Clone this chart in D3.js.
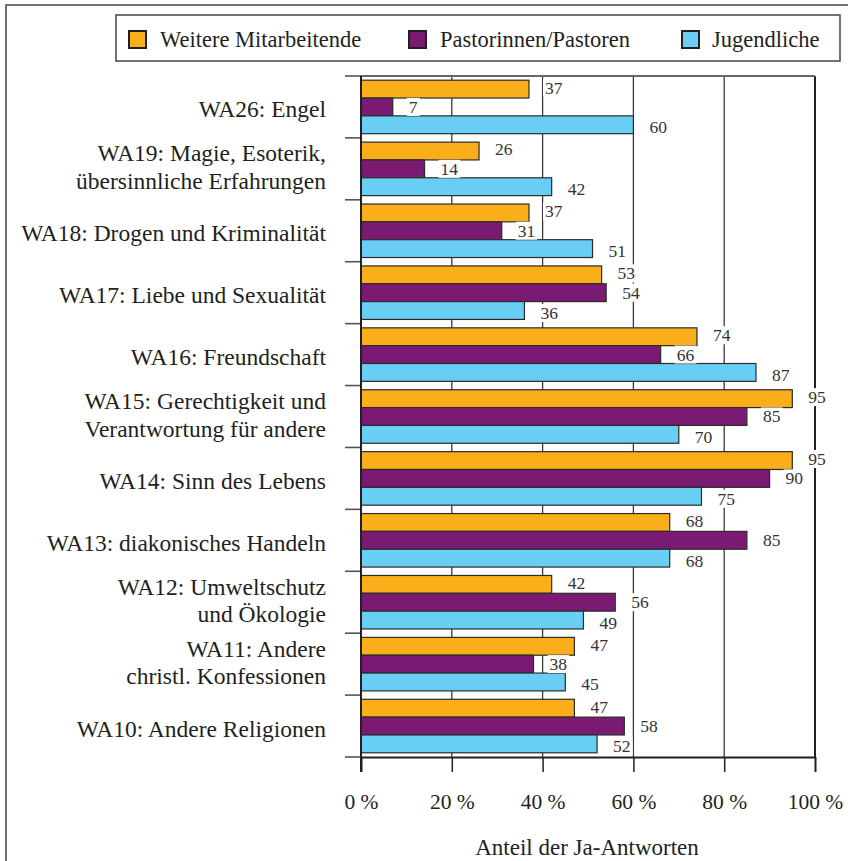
<!DOCTYPE html>
<html>
<head>
<meta charset="utf-8">
<script src="https://cdn.jsdelivr.net/npm/d3@7"></script>
<style>
  html, body { margin: 0; padding: 0; background: #fff; }
  svg { display: block; }
  .serif { font-family: 'Liberation Serif'; }
</style>
</head>
<body>
<svg id="chart" width="848" height="861"></svg>
<script>
// ---------- data ----------
const categoryIds = ["WA26", "WA19", "WA18", "WA17", "WA16", "WA15", "WA14", "WA13", "WA12", "WA11", "WA10"];
const categoryLines = [
  ["WA26: Engel"],
  ["WA19: Magie, Esoterik,", "übersinnliche Erfahrungen"],
  ["WA18: Drogen und Kriminalität"],
  ["WA17: Liebe und Sexualität"],
  ["WA16: Freundschaft"],
  ["WA15: Gerechtigkeit und", "Verantwortung für andere"],
  ["WA14: Sinn des Lebens"],
  ["WA13: diakonisches Handeln"],
  ["WA12: Umweltschutz", "und Ökologie"],
  ["WA11: Andere", "christl. Konfessionen"],
  ["WA10: Andere Religionen"]
];
const seriesNames = ["Weitere Mitarbeitende", "Pastorinnen/Pastoren", "Jugendliche"];
const weitereMitarbeitende = [37, 26, 37, 53, 74, 95, 95, 68, 42, 47, 47];
const pastorinnenPastoren  = [7, 14, 31, 54, 66, 85, 90, 85, 56, 38, 58];
const jugendliche          = [60, 42, 51, 36, 87, 70, 75, 68, 49, 45, 52];
const tickValues = [0, 20, 40, 60, 80, 100];
const tickLabels = ["0 %", "20 %", "40 %", "60 %", "80 %", "100 %"];
const axisTitle = "Anteil der Ja-Antworten";

// ---------- styles ----------
const TEXT_COLOR = "#231f20";
const colors = ["#F9AE1A", "#7A1A73", "#68CEF4"];
const labelDy = [-1.5, 0, 2.5];

const svg = d3.select("#chart");
svg.append("rect").attr("x", 0).attr("y", 0).attr("width", 848).attr("height", 861).attr("fill", "#fff");

function styleText(sel, size) {
  return sel.attr("class", "serif")
    .attr("font-family", "Liberation Serif")
    .attr("font-size", size)
    .attr("fill", TEXT_COLOR);
}

// outer frame (extends past right/bottom edge)
svg.append("rect").attr("x", 6).attr("y", 5).attr("width", 900).attr("height", 900)
  .attr("fill", "none").attr("stroke", "#444").attr("stroke-width", 1.5);

const plotLeft = 361, plotRight = 815, plotTop = 76, plotBottom = 757;

const x = d3.scaleLinear().domain([0, 100]).range([plotLeft, plotRight]);
const y = d3.scaleBand().domain(categoryIds).range([plotTop, plotBottom]).padding(0);
const ySub = d3.scaleBand().domain(seriesNames).range([4.2, y.bandwidth() - 4.2]).padding(0);

const seriesValues = [weitereMitarbeitende, pastorinnenPastoren, jugendliche];

// gridlines
const grid = svg.append("g");
grid.selectAll("line").data(tickValues.filter(d => d > 0)).join("line")
  .attr("x1", d => x(d)).attr("x2", d => x(d))
  .attr("y1", plotTop).attr("y2", plotBottom)
  .attr("stroke", d => d === 100 ? "#231f20" : "#3a3a3a")
  .attr("stroke-width", d => d === 100 ? 2 : 1.3);

// top border
svg.append("line").attr("x1", plotLeft).attr("x2", plotRight).attr("y1", plotTop).attr("y2", plotTop)
  .attr("stroke", "#666").attr("stroke-width", 2);

// bars
const groups = svg.append("g").selectAll("g").data(categoryIds).join("g")
  .attr("transform", d => `translate(0,${y(d)})`);

seriesNames.forEach((s, si) => {
  groups.append("rect")
    .attr("x", x(0))
    .attr("y", ySub(s))
    .attr("width", (d, i) => x(seriesValues[si][i]) - x(0))
    .attr("height", ySub.bandwidth())
    .attr("fill", colors[si])
    .attr("stroke", "#2b2b2b")
    .attr("stroke-width", 1.2);
});

// value labels with white background
seriesNames.forEach((s, si) => {
  groups.each(function(d, i) {
    const g = d3.select(this);
    const v = seriesValues[si][i];
    const t = g.append("text")
      .attr("x", x(v) + 16)
      .attr("y", ySub(s) + ySub.bandwidth() / 2 + labelDy[si])
      .attr("dy", "0.34em")
      .text(v);
    styleText(t, 17.5).attr("fill", "#333");
    const bb = t.node().getBBox();
    g.insert("rect", () => t.node())
      .attr("x", bb.x - 2).attr("y", bb.y + 1)
      .attr("width", bb.width + 4).attr("height", bb.height - 2)
      .attr("fill", "#fff");
  });
});

// left axis line + boundary ticks
const boundaries = categoryIds.map(c => y(c)).concat([y(categoryIds[categoryIds.length - 1]) + y.bandwidth()]);
svg.append("g").selectAll("line").data(boundaries).join("line")
  .attr("x1", plotLeft - 16).attr("x2", plotLeft)
  .attr("y1", d => d).attr("y2", d => d)
  .attr("stroke", "#555").attr("stroke-width", 1.6);
svg.append("line").attr("x1", plotLeft).attr("x2", plotLeft).attr("y1", plotTop).attr("y2", plotBottom + 15)
  .attr("stroke", "#231f20").attr("stroke-width", 2);

// bottom axis
const xAxis = d3.axisBottom(x).tickValues(tickValues).tickSize(15).tickSizeOuter(0)
  .tickFormat((d, i) => tickLabels[i]);
const ax = svg.append("g").attr("transform", `translate(0,${plotBottom})`).call(xAxis);
ax.attr("font-family", null).attr("font-size", null);
ax.select(".domain").attr("stroke", "#231f20").attr("stroke-width", 2);
ax.selectAll(".tick line").attr("stroke", "#231f20").attr("stroke-width", d => d === 100 || d === 0 ? 2 : 1.5);
styleText(ax.selectAll(".tick text").attr("y", 52).attr("dy", 0), 21.5);

// axis title
styleText(svg.append("text").attr("x", 587).attr("y", 855).attr("text-anchor", "middle").text(axisTitle), 23);

// category labels
const catLabels = svg.append("g").selectAll("text").data(categoryIds).join("text")
  .attr("text-anchor", "end");
styleText(catLabels, 23.5);
catLabels.each(function(d, i) {
  const lines = categoryLines[i];
  const cy = y(d) + y.bandwidth() / 2;
  const t = d3.select(this);
  if (lines.length === 1) {
    t.append("tspan").attr("x", 326).attr("y", cy + 10.5).text(lines[0]);
  } else {
    t.append("tspan").attr("x", 326).attr("y", cy - 7.5).text(lines[0]);
    t.append("tspan").attr("x", 326).attr("y", cy + 20).text(lines[1]);
  }
});

// legend
svg.append("rect").attr("x", 116).attr("y", 15).attr("width", 724).attr("height", 46)
  .attr("fill", "#fff").attr("stroke", "#444").attr("stroke-width", 1.5);
const legendSwatchX = [129, 409, 682];
const legendTextX = [160, 440, 712];
seriesNames.forEach((s, si) => {
  svg.append("rect").attr("x", legendSwatchX[si]).attr("y", 31).attr("width", 17).attr("height", 17)
    .attr("fill", colors[si]).attr("stroke", "#231f20").attr("stroke-width", 2);
  styleText(svg.append("text").attr("x", legendTextX[si]).attr("y", 47).text(s), 22.5);
});
</script>
</body>
</html>
